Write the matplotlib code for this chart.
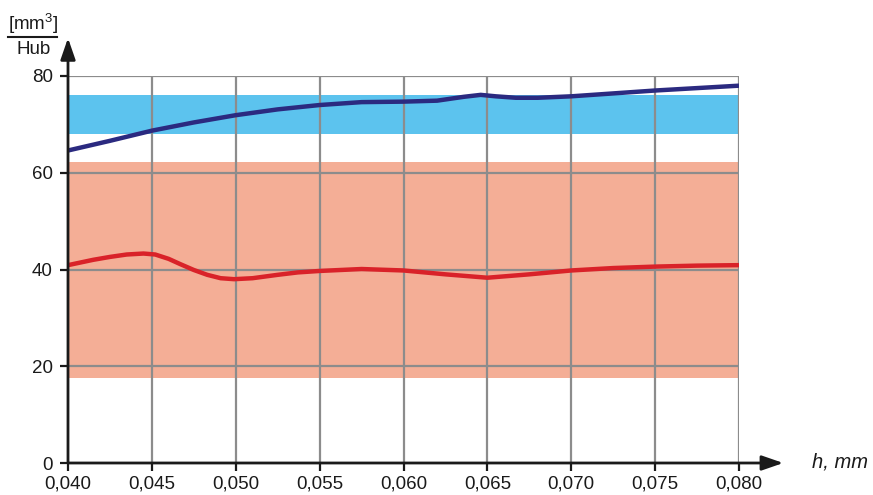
import matplotlib
matplotlib.use("Agg")
import matplotlib.pyplot as plt
from matplotlib.lines import Line2D

# ---- data ----
blue_h = [0.0400, 0.0425, 0.0450, 0.0475, 0.0500, 0.0525, 0.0550, 0.0575, 0.0600,
          0.0620, 0.0636, 0.0646, 0.0655, 0.0667, 0.0680, 0.0700, 0.0725, 0.0750,
          0.0775, 0.0800]
blue_vals = [64.6, 66.6, 68.7, 70.4, 71.9, 73.1, 74.0, 74.6, 74.7,
             74.9, 75.7, 76.1, 75.8, 75.5, 75.5, 75.8, 76.4, 77.0,
             77.5, 78.0]
red_h = [0.0400, 0.0415, 0.0425, 0.0435, 0.0445, 0.0452, 0.0460, 0.0467, 0.0475,
         0.0483, 0.0491, 0.0499, 0.0510, 0.0525, 0.0537, 0.0550, 0.0575, 0.0600,
         0.0625, 0.0650, 0.0675, 0.0700, 0.0725, 0.0750, 0.0775, 0.0800]
red_vals = [40.9, 42.0, 42.6, 43.1, 43.3, 43.1, 42.2, 41.1, 39.9,
            38.9, 38.2, 38.0, 38.2, 38.9, 39.4, 39.7, 40.1, 39.8,
            39.0, 38.3, 39.0, 39.8, 40.3, 40.6, 40.8, 40.9]
blue_band = (68.0, 76.0)
red_band = (17.6, 62.2)
xticks = [0.040, 0.045, 0.050, 0.055, 0.060, 0.065, 0.070, 0.075, 0.080]
xticklabels = ["0,040", "0,045", "0,050", "0,055", "0,060", "0,065", "0,070", "0,075", "0,080"]
yticks = [0, 20, 40, 60, 80]

plt.rcParams['font.family'] = ['Liberation Sans', 'DejaVu Sans']
plt.rcParams['mathtext.fontset'] = 'custom'
plt.rcParams['mathtext.rm'] = 'Liberation Sans'
plt.rcParams['mathtext.it'] = 'Liberation Sans:italic'

fig = plt.figure(figsize=(8.73, 4.95), dpi=100)
W, H = 873, 495
x0, x1, y0, y1 = 68, 739, 463, 76
ax = fig.add_axes([x0 / W, (H - y0) / H, (x1 - x0) / W, (y0 - y1) / H])
ax.set_xlim(0.040, 0.080)
ax.set_ylim(0, 80)

# bands
ax.fill_between([0.040, 0.080], blue_band[0], blue_band[1], color='#5cc3ee', lw=0, zorder=1)
ax.fill_between([0.040, 0.080], red_band[0], red_band[1], color='#f4ae96', lw=0, zorder=1)

# grid
for xv in xticks[1:]:
    ax.axvline(xv, color='#8c8c8c', lw=1.6, zorder=2)
for yv in yticks[1:]:
    ax.axhline(yv, color='#8c8c8c', lw=1.6, zorder=2)

# curves
ax.plot(blue_h, blue_vals, color='#2b2a80', lw=3.2, zorder=4, solid_capstyle='butt', solid_joinstyle='round')
ax.plot(red_h, red_vals, color='#d92229', lw=3.2, zorder=4, solid_capstyle='butt', solid_joinstyle='round')

for s in ax.spines.values():
    s.set_visible(False)

ax.set_xticks(xticks)
ax.set_xticklabels(xticklabels)
ax.set_yticks(yticks)
ax.tick_params(axis='both', direction='out', length=6, width=1.6, color='#1a1a1a',
               labelsize=13.5, labelcolor='#1a1a1a')
ax.tick_params(axis='x', pad=3)
ax.tick_params(axis='y', pad=5)

# axes with arrows
ax.annotate('', xy=(1.066, 0), xytext=(0, 0), xycoords='axes fraction',
            arrowprops=dict(arrowstyle='-|>,head_length=1.3,head_width=0.45', lw=2,
                            color='#1a1a1a', shrinkA=0, shrinkB=0), annotation_clip=False, zorder=5)
ax.annotate('', xy=(0, 1.098), xytext=(0, 0), xycoords='axes fraction',
            arrowprops=dict(arrowstyle='-|>,head_length=1.3,head_width=0.45', lw=2,
                            color='#1a1a1a', shrinkA=0, shrinkB=0), annotation_clip=False, zorder=5)

# labels
fig.text(812 / W, 1 - 462 / H, 'h, mm', fontsize=14.5, style='italic', color='#1a1a1a',
         ha='left', va='center')
fig.text(33 / W, 1 - 24 / H, '[mm$^3$]', fontsize=13.5, color='#1a1a1a', ha='center', va='center')
fig.text(34 / W, 1 - 50 / H, 'Hub', fontsize=13.5, color='#1a1a1a', ha='center', va='center')
fig.add_artist(Line2D([8 / W, 57 / W], [1 - 37 / H, 1 - 37 / H], color='#1a1a1a', lw=1.5,
                      transform=fig.transFigure))

fig.savefig('out.png', dpi=100)
